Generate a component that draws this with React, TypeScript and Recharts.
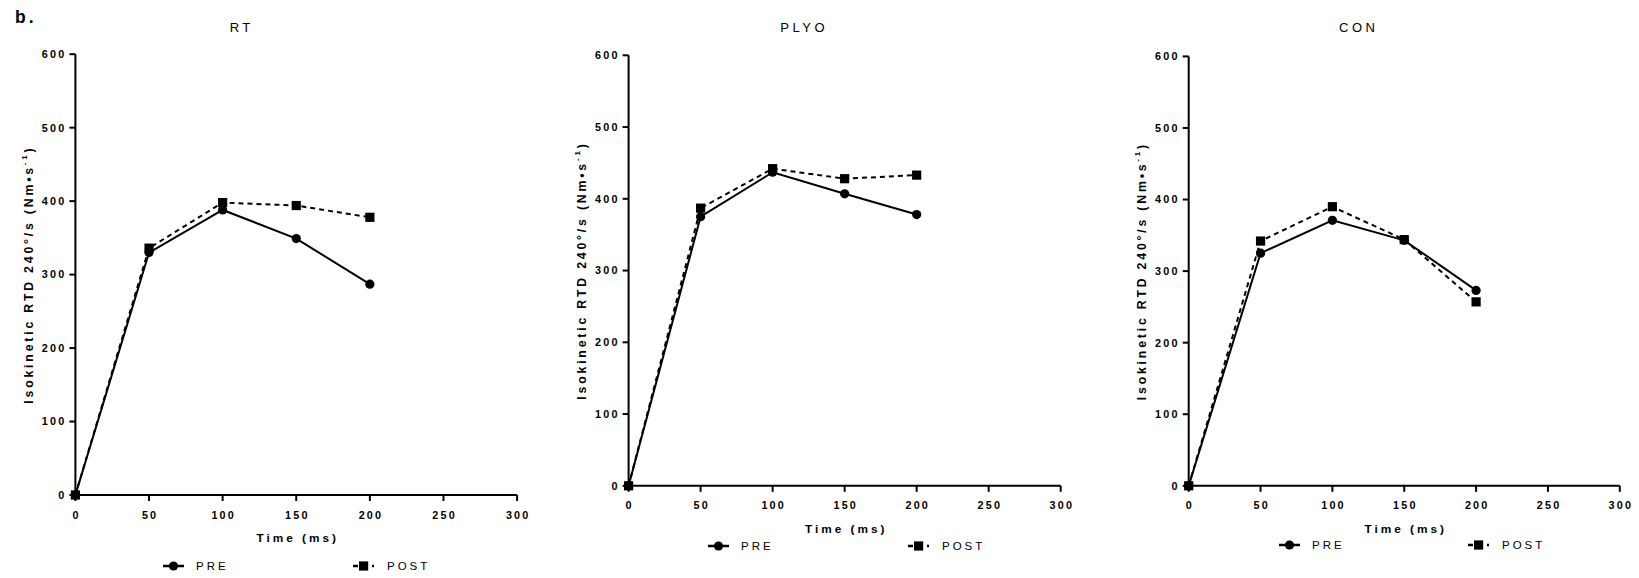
import React from 'react';
import { LineChart, Line, XAxis, YAxis, Legend } from 'recharts';

const timePoints = [0, 50, 100, 150, 200];
const xTicks = [0, 50, 100, 150, 200, 250, 300];
const yTicks = [0, 100, 200, 300, 400, 500, 600];
const panelTitles = ['RT', 'PLYO', 'CON'];
const seriesNames = ['PRE', 'POST'];
const rtPre = [0, 330, 388, 349, 287];
const rtPost = [0, 336, 398, 394, 378];
const plyoPre = [0, 375, 437, 407, 378];
const plyoPost = [0, 387, 442, 428, 433];
const conPre = [0, 325, 371, 343, 273];
const conPost = [0, 342, 390, 344, 257];
const xAxisTitle = 'Time (ms)';
const yAxisTitle = 'Isokinetic RTD 240°/s (Nm•s';
const yAxisSup = '-1';
const panelLetter = 'b.';

const FONT = "Arial, 'Liberation Sans', Helvetica, sans-serif";

const panelSeries = [
  [rtPre, rtPost],
  [plyoPre, plyoPost],
  [conPre, conPost],
];

const layouts = [
  { left: 0, width: 540, margin: { top: 54.2, right: 22.9, bottom: 53, left: 15.4 }, titleX: 240, legendY: 565.8, preX: 163, postX: 353 },
  { left: 540, width: 560, margin: { top: 55.3, right: 39.3, bottom: 62.2, left: 28.6 }, titleX: 262.5, legendY: 546, preX: 168, postX: 368 },
  { left: 1100, width: 539, margin: { top: 56.4, right: 19.2, bottom: 62.2, left: 28.7 }, titleX: 257, legendY: 545, preX: 179, postX: 368 },
];

const CHART_H = 578;

const XTick = (props: any) => {
  const { x, y, payload } = props;
  return (
    <text x={x + 1.1} y={y} dy="0.71em" textAnchor="middle" fontSize={10.8} fontWeight="bold" fill="#000" fontFamily={FONT} style={{ letterSpacing: '2.2px' }}>
      {payload.value}
    </text>
  );
};

const YTick = (props: any) => {
  const { x, y, payload } = props;
  return (
    <text x={x} y={y} dy="0.355em" textAnchor="end" fontSize={10.8} fontWeight="bold" fill="#000" fontFamily={FONT} style={{ letterSpacing: '2.2px' }}>
      {payload.value}
    </text>
  );
};

const YLabel = (props: any) => {
  const { viewBox } = props;
  const cx = viewBox.x + viewBox.width - 46.5;
  const cy = viewBox.y + viewBox.height / 2;
  return (
    <text x={cx} y={cy} transform={`rotate(-90 ${cx} ${cy})`} textAnchor="middle" dominantBaseline="central" fontSize={12.3} fontWeight="bold" fill="#000" fontFamily={FONT} style={{ letterSpacing: '2.8px' }}>
      {yAxisTitle}
      <tspan dy={-5} fontSize={8}>{yAxisSup}</tspan>
      <tspan dy={5}>)</tspan>
    </text>
  );
};

const XLabel = (props: any) => {
  const { viewBox } = props;
  const cx = viewBox.x + viewBox.width / 2 + 1.5;
  const cy = viewBox.y + 43;
  return (
    <text x={cx} y={cy} textAnchor="middle" dominantBaseline="central" fontSize={11.8} fontWeight="bold" fill="#000" fontFamily={FONT} style={{ letterSpacing: '3px' }}>
      {xAxisTitle}
    </text>
  );
};

const CircleDot = (props: any) => {
  const { cx, cy, index } = props;
  if (cx == null || cy == null) return <g key={`c-${index}`} />;
  return <circle key={`c-${index}`} cx={cx} cy={cy} r={4.6} fill="#000" stroke="none" />;
};

const SquareDot = (props: any) => {
  const { cx, cy, index } = props;
  if (cx == null || cy == null) return <g key={`s-${index}`} />;
  return <rect key={`s-${index}`} x={cx - 4.6} y={cy - 4.6} width={9.2} height={9.2} fill="#000" stroke="none" />;
};

const makeLegend = (width: number, preX: number, postX: number) => (props: any) => {
  const payload = props.payload || [];
  return (
    <svg width={width} height={20} style={{ display: 'block' }}>
      {payload.map((entry: any, i: number) => {
        const isPre = entry.value === seriesNames[0];
        const x0 = isPre ? preX : postX;
        if (isPre) {
          return (
            <g key={`l-${i}`}>
              <line x1={x0} y1={10} x2={x0 + 21} y2={10} stroke="#000" strokeWidth={2.5} />
              <circle cx={x0 + 10.5} cy={10} r={4.6} fill="#000" />
              <text x={x0 + 33} y={10} dominantBaseline="central" fontSize={11.5} fill="#000" fontFamily={FONT} style={{ letterSpacing: '3px' }}>{entry.value}</text>
            </g>
          );
        }
        return (
          <g key={`l-${i}`}>
            <line x1={x0} y1={10} x2={x0 + 5} y2={10} stroke="#000" strokeWidth={2.5} />
            <rect x={x0 + 6} y={5.4} width={9.2} height={9.2} fill="#000" />
            <line x1={x0 + 19} y1={10} x2={x0 + 21} y2={10} stroke="#000" strokeWidth={2.5} />
            <text x={x0 + 34} y={10} dominantBaseline="central" fontSize={11.5} fill="#000" fontFamily={FONT} style={{ letterSpacing: '3px' }}>{entry.value}</text>
          </g>
        );
      })}
    </svg>
  );
};

const Panel = ({ idx }: { idx: number }) => {
  const lay = layouts[idx];
  const [pre, post] = panelSeries[idx];
  const data = timePoints.map((t, i) => ({ t, pre: pre[i], post: post[i] }));
  return (
    <div style={{ position: 'absolute', left: lay.left, top: 0, width: lay.width, height: CHART_H }}>
      <LineChart width={lay.width} height={CHART_H} data={data} margin={lay.margin}>
        <XAxis
          dataKey="t"
          type="number"
          domain={[0, 300]}
          ticks={xTicks}
          interval={0}
          height={30}
          tickSize={6}
          tickMargin={10}
          axisLine={{ stroke: '#000', strokeWidth: 2 }}
          tickLine={{ stroke: '#000', strokeWidth: 2 }}
          tick={XTick}
          label={{ content: XLabel }}
        />
        <YAxis
          type="number"
          domain={[0, 600]}
          ticks={yTicks}
          interval={0}
          width={60}
          tickSize={6}
          tickMargin={3}
          axisLine={{ stroke: '#000', strokeWidth: 2 }}
          tickLine={{ stroke: '#000', strokeWidth: 2 }}
          tick={YTick}
          label={{ content: YLabel }}
        />
        <Legend
          layout="vertical"
          align="center"
          verticalAlign="middle"
          content={makeLegend(lay.width, lay.preX, lay.postX)}
          wrapperStyle={{ position: 'absolute', left: 0, top: lay.legendY - 10, width: lay.width, height: 20, margin: 0 }}
        />
        <Line
          type="linear"
          dataKey="pre"
          name={seriesNames[0]}
          stroke="#000"
          strokeWidth={2}
          dot={CircleDot}
          activeDot={false}
          isAnimationActive={false}
        />
        <Line
          type="linear"
          dataKey="post"
          name={seriesNames[1]}
          stroke="#000"
          strokeWidth={2}
          strokeDasharray="5 4"
          dot={SquareDot}
          activeDot={false}
          isAnimationActive={false}
        />
      </LineChart>
    </div>
  );
};

export default function App() {
  return (
    <div style={{ position: 'absolute', left: 0, top: 0, width: 1639, height: 578, background: '#fff', overflow: 'hidden' }}>
      {layouts.map((_, i) => (
        <Panel key={i} idx={i} />
      ))}
      <svg width={1639} height={578} style={{ position: 'absolute', left: 0, top: 0, pointerEvents: 'none' }}>
        <text x={15} y={22.7} fontSize={17.5} fontWeight="bold" fill="#000" fontFamily={FONT} style={{ letterSpacing: '3px' }}>{panelLetter}</text>
        {layouts.map((lay, i) => (
          <text key={i} x={lay.left + lay.titleX + 1.7} y={27.6} textAnchor="middle" dominantBaseline="central" fontSize={13} fill="#000" fontFamily={FONT} style={{ letterSpacing: '3.5px' }}>
            {panelTitles[i]}
          </text>
        ))}
      </svg>
    </div>
  );
}
